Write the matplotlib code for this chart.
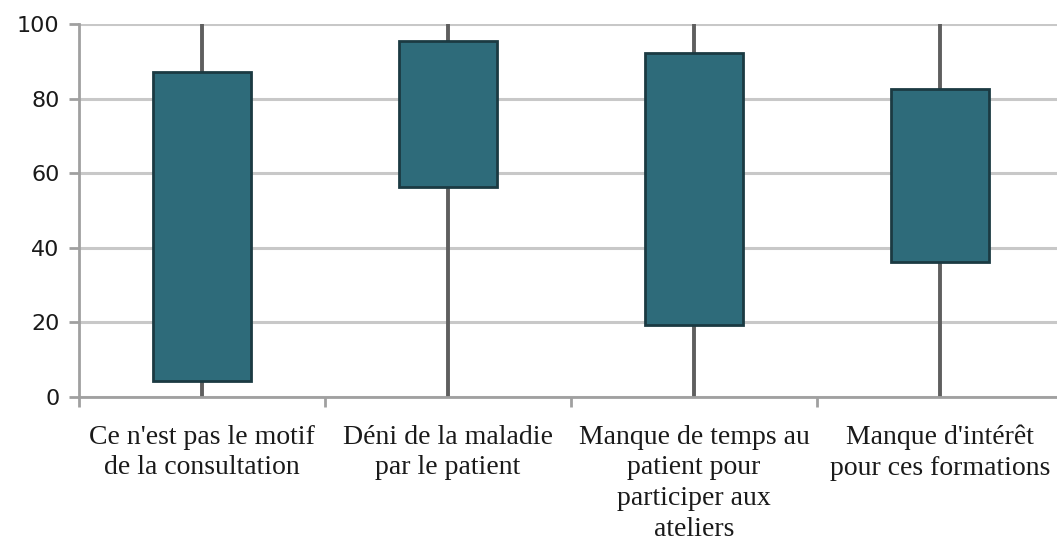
import numpy as np
import matplotlib
matplotlib.use("Agg")
import matplotlib.pyplot as plt
from matplotlib.ticker import FixedLocator

# Données
categories = ["Ce n'est pas le motif\nde la consultation",
              "Déni de la maladie\npar le patient",
              "Manque de temps au\npatient pour\nparticiper aux\nateliers",
              "Manque d'intérêt\npour ces formations"]
bas = [0, 0, 0, 0]          # minimum
haut = [100, 100, 100, 100]  # maximum
q_bas = [4.3, 56.4, 19.3, 36.3]   # bas de la boîte
q_haut = [87.1, 95.5, 92.1, 82.7]  # haut de la boîte

x = np.arange(len(categories))

fig = plt.figure(figsize=(10.57, 5.42), dpi=100)
ax = fig.add_axes([79 / 1057, 1 - 397 / 542, 984 / 1057, 373 / 542])

ax.set_ylim(0, 100)
ax.set_xlim(-0.5, len(categories) - 0.5)
ax.set_yticks([0, 20, 40, 60, 80, 100])
ax.yaxis.grid(True, color='#c8c8c8', linewidth=2.2, zorder=0)
ax.set_axisbelow(True)

# traits min-max puis boîtes
ax.vlines(x, bas, haut, color='#5f5f5f', linewidth=2.8, zorder=2)
ax.bar(x, np.array(q_haut) - np.array(q_bas), bottom=q_bas, width=0.395,
       color='#2e6b7a', edgecolor='#1b3a42', linewidth=2, zorder=3)

for s in ['top', 'right']:
    ax.spines[s].set_visible(False)
ax.spines['left'].set_color('#a0a0a0')
ax.spines['left'].set_linewidth(2)
ax.spines['bottom'].set_color('#a0a0a0')
ax.spines['bottom'].set_linewidth(2)

ax.tick_params(axis='y', length=7, width=2, color='#a0a0a0', pad=7,
               labelsize=16, labelcolor='#1a1a1a')
for lab in ax.get_yticklabels():
    lab.set_fontfamily('DejaVu Sans')

ax.xaxis.set_major_locator(FixedLocator(np.arange(-0.5, len(categories), 1.0)))
ax.set_xticklabels([])
ax.xaxis.set_minor_locator(FixedLocator(x))
ax.set_xticklabels(categories, minor=True)
ax.tick_params(axis='x', which='major', length=7, width=2, color='#a0a0a0')
ax.tick_params(axis='x', which='minor', length=0, pad=20, labelsize=20,
               labelcolor='#1a1a1a')
for lab in ax.get_xticklabels(minor=True):
    lab.set_fontfamily('Liberation Serif')
    lab.set_linespacing(1.3)
    lab.set_verticalalignment('top')

fig.savefig('out.png', dpi=100)
